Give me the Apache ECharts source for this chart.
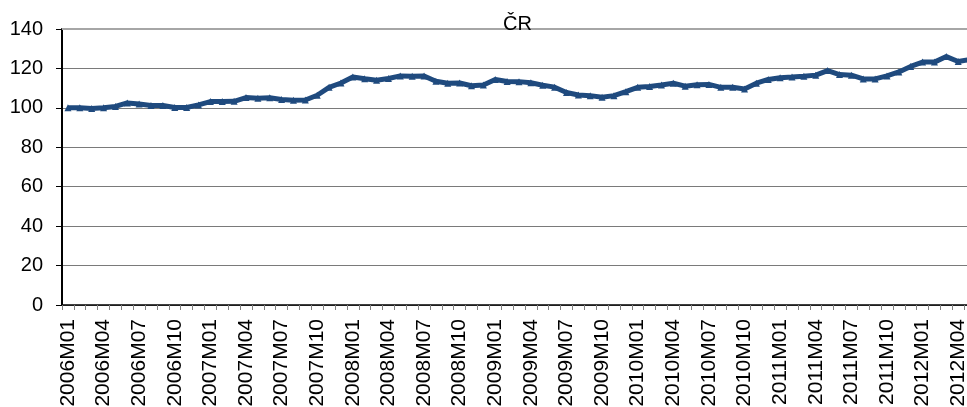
<!DOCTYPE html>
<html>
<head>
<meta charset="utf-8">
<script src="https://cdn.jsdelivr.net/npm/echarts@6/dist/echarts.min.js"></script>
<style>
  html, body { margin: 0; padding: 0; background: #fff; }
  #chart { width: 967px; height: 407px; }
</style>
</head>
<body>
<div id="chart"></div>
<script>
// Monthly categories, 2006M01 .. 2012M05
const years = [2006, 2007, 2008, 2009, 2010, 2011, 2012];
const months = ['01','02','03','04','05','06','07','08','09','10','11','12'];
const categories = [];
years.forEach(y => months.forEach(m => {
  if (y < 2012 || Number(m) <= 5) categories.push(y + 'M' + m);
}));

// Index values, ČR
const crValues = [
  100.1, 100.0, 99.7, 100.0, 100.7, 102.5, 102.0, 101.2, 101.2, 100.2, 100.2, 101.5,
  103.2, 103.2, 103.3, 105.2, 104.9, 105.1, 104.2, 103.8, 104.0, 106.4, 110.4, 112.6,
  115.7, 114.8, 114.0, 114.9, 116.2, 116.0, 116.2, 113.5, 112.5, 112.6, 111.2, 111.6,
  114.4, 113.4, 113.3, 112.7, 111.5, 110.5, 107.8, 106.5, 106.2, 105.4, 106.2, 108.2,
  110.4, 110.8, 111.6, 112.5, 111.0, 111.7, 111.9, 110.4, 110.5, 109.6, 112.5, 114.4,
  115.3, 115.6, 116.0, 116.6, 118.9, 116.9, 116.6, 114.7, 114.7, 116.2, 118.2, 121.0,
  123.2, 123.2, 126.0, 123.5, 124.6
];

const yTicks = { min: 0, max: 140, step: 20 };
const seriesName = 'ČR';

const font = '"Liberation Sans", Arial, sans-serif';
const lineColor = '#1F4A7E';

const chart = echarts.init(document.getElementById('chart'), null, { renderer: 'canvas' });
chart.setOption({
  animation: false,
  backgroundColor: '#ffffff',
  title: {
    text: seriesName,
    left: 498,
    top: 9,
    textStyle: { fontFamily: font, fontSize: 20, fontWeight: 'normal', color: '#000' }
  },
  grid: {
    left: 62, right: -9, top: 29, bottom: 102,
    containLabel: false,
    outerBoundsMode: 'none'
  },
  xAxis: {
    type: 'category',
    data: categories,
    boundaryGap: true,
    axisLine: { lineStyle: { color: '#000', width: 1.5 } },
    axisTick: { show: true, interval: 0, length: 5, lineStyle: { color: '#808080' } },
    axisLabel: {
      interval: 2,
      rotate: 90,
      margin: 14,
      fontFamily: font,
      fontSize: 21,
      color: '#000'
    },
    splitLine: { show: false }
  },
  yAxis: {
    type: 'value',
    min: yTicks.min,
    max: yTicks.max,
    interval: yTicks.step,
    axisLine: { show: true, lineStyle: { color: '#000', width: 2 } },
    axisTick: { show: true, length: 6, lineStyle: { color: '#000' } },
    axisLabel: { margin: 19, fontFamily: font, fontSize: 20, color: '#000' },
    splitLine: { show: true, lineStyle: { color: '#7a7a7a', width: 1 } }
  },
  series: [{
    name: seriesName,
    type: 'line',
    data: crValues,
    symbol: 'triangle',
    symbolSize: 7,
    showSymbol: true,
    lineStyle: { color: lineColor, width: 5 },
    itemStyle: { color: lineColor },
    markLine: {
      silent: true,
      symbol: 'none',
      label: { show: false },
      lineStyle: { color: '#a6a6a6', width: 2, type: 'solid' },
      data: [{ yAxis: yTicks.max }]
    },
    z: 3
  }]
});
</script>
</body>
</html>
